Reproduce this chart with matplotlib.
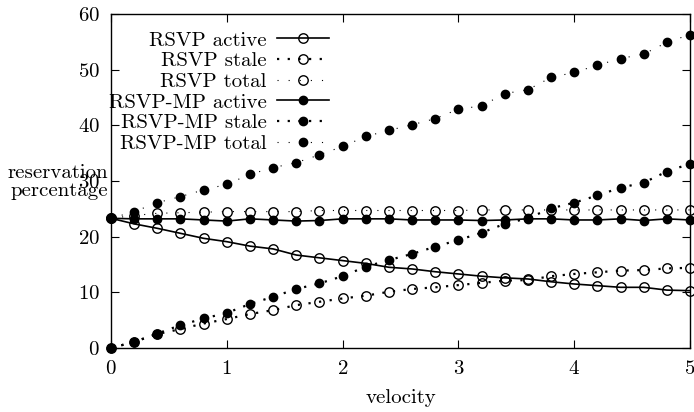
import numpy as np
import matplotlib
matplotlib.use("Agg")
import matplotlib.pyplot as plt

velocity = [0.0, 0.2, 0.4, 0.6, 0.8, 1.0, 1.2, 1.4, 1.6, 1.8, 2.0, 2.2, 2.4,
            2.6, 2.8, 3.0, 3.2, 3.4, 3.6, 3.8, 4.0, 4.2, 4.4, 4.6, 4.8, 5.0]

rsvp_active = [23.3, 22.3, 21.5, 20.6, 19.7, 19.1, 18.3, 17.8, 16.7, 16.2, 15.7,
               15.2, 14.5, 14.2, 13.7, 13.3, 12.9, 12.6, 12.4, 11.9, 11.5, 11.2,
               10.9, 10.9, 10.4, 10.3]
rsvp_stale = [0.0, 1.1, 2.5, 3.4, 4.4, 5.2, 6.1, 6.8, 7.7, 8.3, 8.9, 9.4, 10.1,
              10.6, 10.9, 11.3, 11.7, 12.1, 12.2, 12.9, 13.3, 13.6, 13.9, 14.0,
              14.3, 14.4]
rsvp_total = [23.3, 23.8, 24.2, 24.3, 24.4, 24.5, 24.5, 24.5, 24.5, 24.7, 24.7,
              24.7, 24.7, 24.7, 24.7, 24.7, 24.8, 24.8, 24.8, 24.8, 24.8, 24.8,
              24.8, 24.8, 24.8, 24.8]
mp_active = [23.3, 23.2, 23.2, 23.2, 23.0, 22.8, 23.2, 23.0, 22.8, 22.9, 23.2,
             23.2, 23.2, 23.0, 23.0, 23.0, 22.9, 23.0, 23.2, 23.2, 23.0, 23.0,
             23.2, 22.9, 23.2, 23.0]
mp_stale = [0.0, 1.1, 2.6, 4.1, 5.3, 6.3, 7.9, 9.2, 10.6, 11.6, 12.9, 14.6, 15.8,
            16.9, 18.2, 19.4, 20.7, 22.3, 23.3, 25.1, 26.1, 27.4, 28.8, 29.7,
            31.7, 33.1]
mp_total = [23.3, 24.5, 26.1, 27.2, 28.4, 29.4, 31.2, 32.4, 33.3, 34.7, 36.2,
            38.0, 39.1, 40.1, 41.2, 42.9, 43.5, 45.7, 46.4, 48.6, 49.5, 50.8,
            52.0, 52.8, 54.9, 56.3]

labels = ["RSVP active", "RSVP stale", "RSVP total",
          "RSVP-MP active", "RSVP-MP stale", "RSVP-MP total"]
xticks = [0, 1, 2, 3, 4, 5]
yticks = [0, 10, 20, 30, 40, 50, 60]

plt.rcParams['font.family'] = ['cmr10', 'DejaVu Serif']
plt.rcParams['axes.formatter.use_mathtext'] = True
plt.rcParams['mathtext.fontset'] = 'cm'

fig = plt.figure(figsize=(6.94, 4.12), dpi=100)
ax = fig.add_axes([111/694, 1 - 348/412, 579/694, 334/412])

FS = 15
bold_dot = (0, (1.0, 3.8))
fine_dot = (0, (1.0, 9.0))

common_open = dict(marker='o', ms=6.8, mfc='none', mec='black', mew=1.0,
                   color='black')
common_fill = dict(marker='o', ms=6.0, mfc='black', mec='black', mew=1.0,
                   color='black')

ax.plot(velocity, rsvp_active, ls='-', lw=1.2, label=labels[0], **common_open)
ax.plot(velocity, rsvp_stale, ls=bold_dot, lw=1.6, label=labels[1], **common_open)
ax.plot(velocity, rsvp_total, ls=fine_dot, lw=0.8, label=labels[2], **common_open)
ax.plot(velocity, mp_active, ls='-', lw=1.2, label=labels[3], **common_fill)
ax.plot(velocity, mp_stale, ls=bold_dot, lw=1.6, label=labels[4], **common_fill)
ax.plot(velocity, mp_total, ls=fine_dot, lw=0.8, label=labels[5], **common_fill)

for l in ax.get_lines():
    l.set_clip_on(False)

ax.set_xlim(0, 5)
ax.set_ylim(0, 60)
ax.set_xticks(xticks)
ax.set_yticks(yticks)
ax.tick_params(direction='in', length=6, width=0.8, top=True, right=True,
               labelsize=FS)
ax.tick_params(axis='x', pad=9)
ax.tick_params(axis='y', pad=8)
for s in ax.spines.values():
    s.set_linewidth(1.0)

ax.set_xlabel('velocity', fontsize=FS, va='center')
ax.xaxis.set_label_coords(0.5, (348 - 398) / 334)
ax.set_ylabel('reservation\npercentage', fontsize=FS, rotation=0,
              ha='right', va='center', multialignment='right', linespacing=1.05)
ax.yaxis.set_label_coords((108 - 111) / 579, (348 - 182) / 334)

leg = ax.legend(loc='upper right',
                bbox_to_anchor=((329 - 111) / 579, 1 - 17 / 334),
                frameon=False, markerfirst=False, fontsize=FS,
                handlelength=2.5, handletextpad=0.5, labelspacing=0.1,
                borderaxespad=0.0, borderpad=0.0)

fig.savefig('out.png', dpi=100)
